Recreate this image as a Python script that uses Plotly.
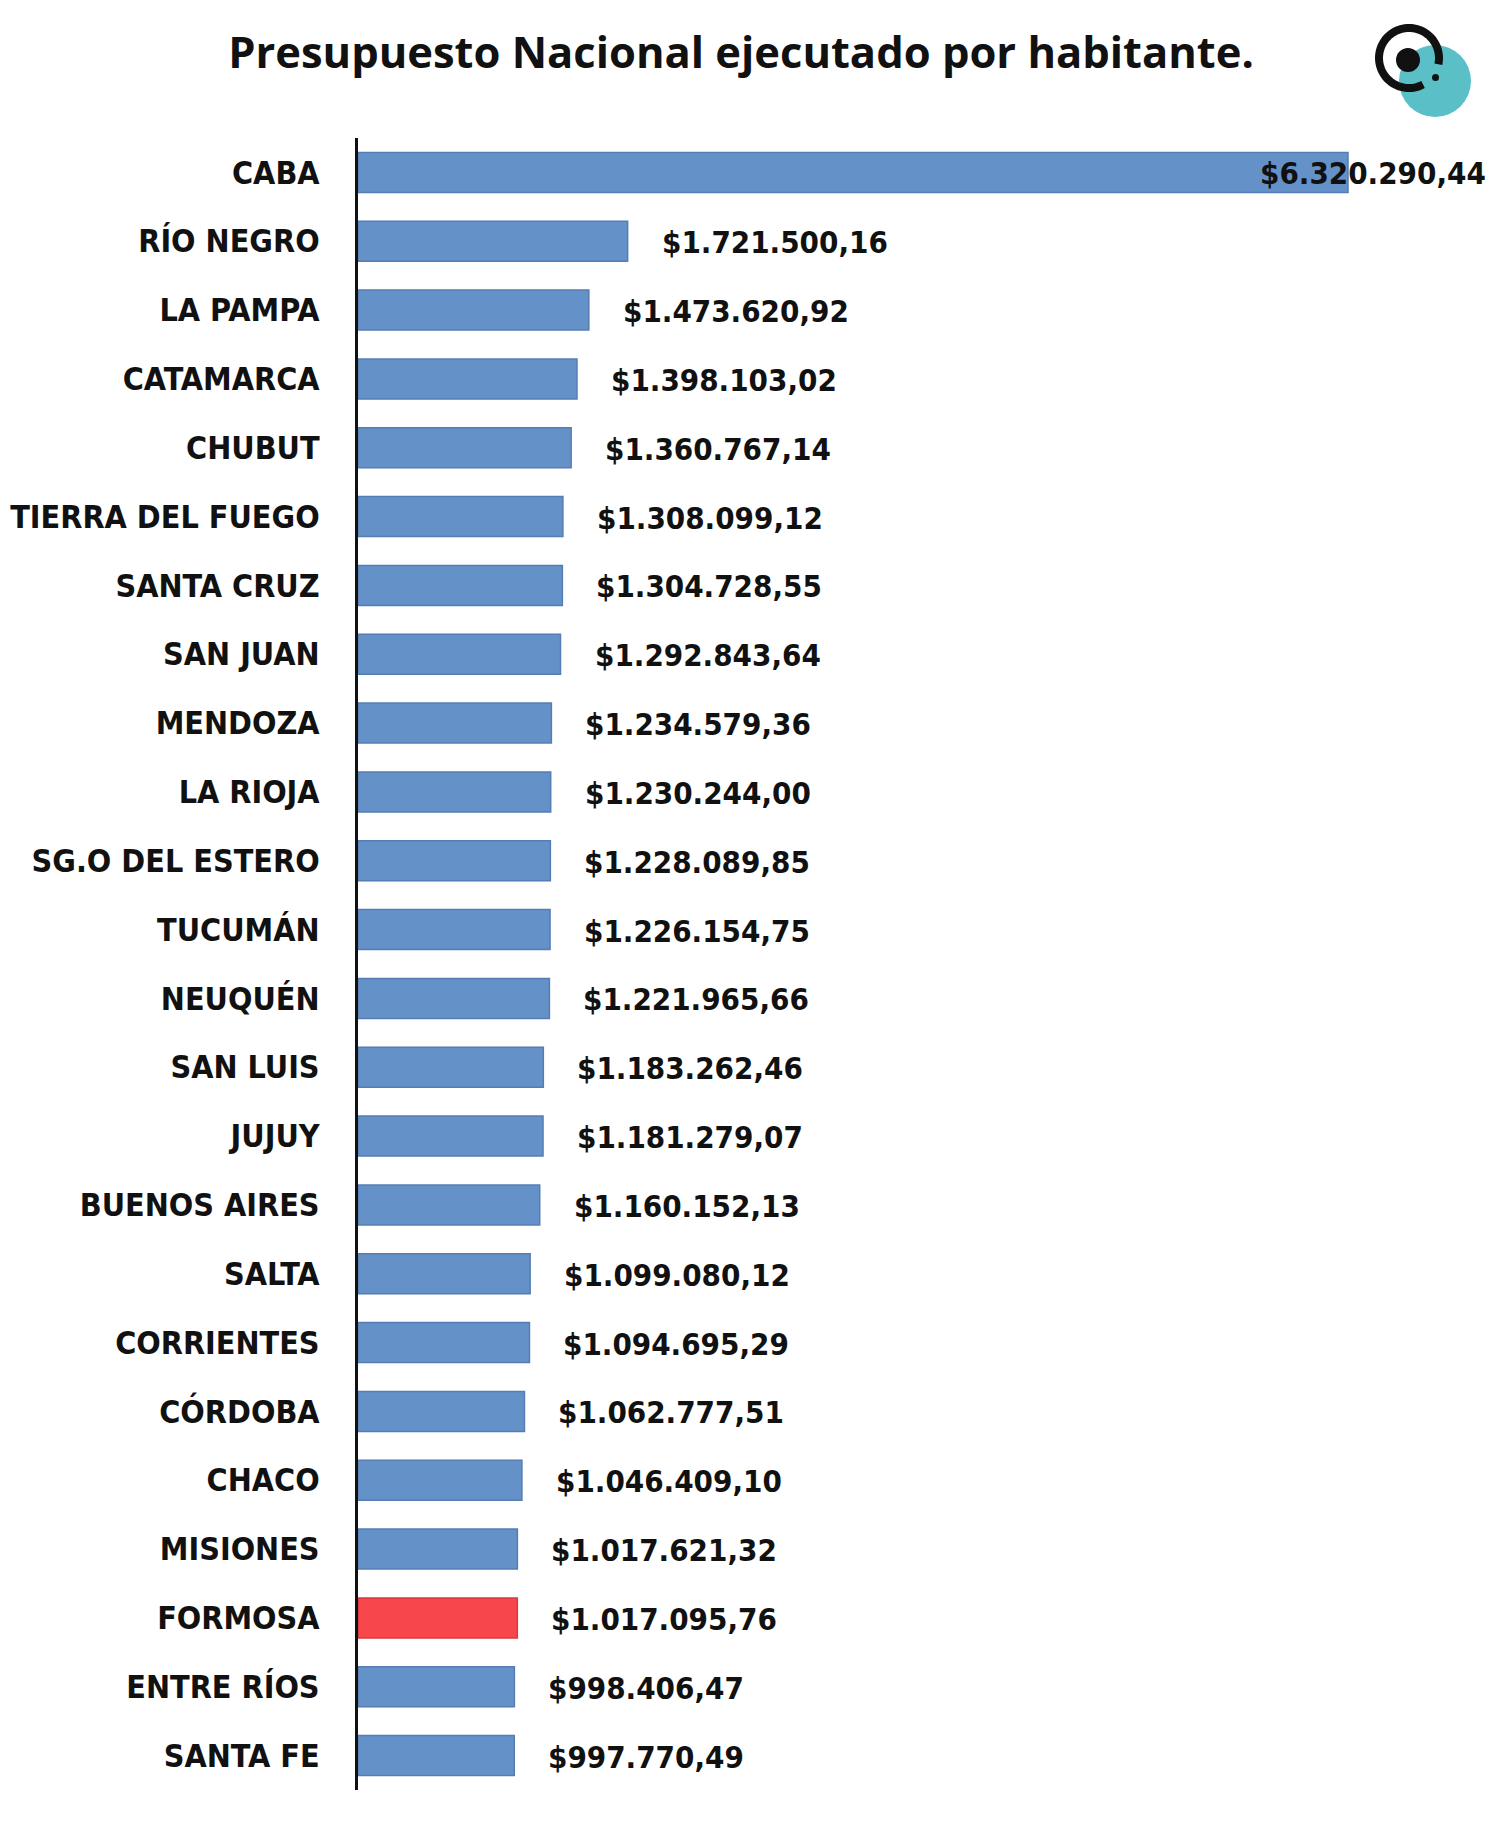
import numpy as np
import plotly.graph_objects as go

# ---------------- data ----------------
provincias = ["CABA", "RÍO NEGRO", "LA PAMPA", "CATAMARCA", "CHUBUT", "TIERRA DEL FUEGO",
              "SANTA CRUZ", "SAN JUAN", "MENDOZA", "LA RIOJA", "SG.O DEL ESTERO", "TUCUMÁN",
              "NEUQUÉN", "SAN LUIS", "JUJUY", "BUENOS AIRES", "SALTA", "CORRIENTES",
              "CÓRDOBA", "CHACO", "MISIONES", "FORMOSA", "ENTRE RÍOS", "SANTA FE"]
valores = [6320290.44, 1721500.16, 1473620.92, 1398103.02, 1360767.14, 1308099.12,
           1304728.55, 1292843.64, 1234579.36, 1230244.00, 1228089.85, 1226154.75,
           1221965.66, 1183262.46, 1181279.07, 1160152.13, 1099080.12, 1094695.29,
           1062777.51, 1046409.10, 1017621.32, 1017095.76, 998406.47, 997770.49]
destacada = "FORMOSA"
titulo = "Presupuesto Nacional ejecutado por habitante."

# ---------------- styling ----------------
OFF = 8  # default page body margin
W, H = 1500 - OFF, 1830 - 2 * OFF
ML, MR, MT, MB = 358 - OFF, 10, 138 - OFF, 1830 - 1790 - OFF
BLUE, BLUE_EDGE = "#6591C9", "#557DB3"
RED, RED_EDGE = "#F7474C", "#D83A3E"
LABEL_FONT = "Liberation Sans Narrow, DejaVu Sans Condensed, Arial Narrow, sans-serif"


def fmt(v):
    s = f"{v:,.2f}"
    return "$" + s.replace(",", "X").replace(".", ",").replace("X", ".")


colors = [RED if p == destacada else BLUE for p in provincias]
edges = [RED_EDGE if p == destacada else BLUE_EDGE for p in provincias]

fig = go.Figure()
fig.add_trace(go.Bar(
    x=valores, y=provincias, orientation="h",
    marker=dict(color=colors, line=dict(color=edges, width=1.5)),
    hoverinfo="skip",
))

for p, v in zip(provincias, valores):
    shift = -90 if v == max(valores) else 32
    fig.add_annotation(
        x=v, y=p, xref="x", yref="y", text=fmt(v), showarrow=False,
        xanchor="left", yanchor="middle", xshift=shift, yshift=-1,
        font=dict(family=LABEL_FONT, size=31, color="#111111", weight="bold"),
    )

plot_w = W - ML - MR
plot_h = H - MT - MB
px_per_unit = 990 / max(valores)
xmax = plot_w / px_per_unit

# ---------------- logo (decorative shapes) ----------------
def px(xp):
    return (xp - OFF - ML) / plot_w


def py(yp):
    return (H - MB - (yp - OFF)) / plot_h


shapes = []
# teal disc
cx, cy, r = 1435, 81, 36
shapes.append(dict(type="circle", xref="paper", yref="paper",
                   x0=px(cx - r), x1=px(cx + r), y0=py(cy + r), y1=py(cy - r),
                   fillcolor="#5BBFC8", line=dict(width=0), layer="above"))
# black open ring
rcx, rcy, rr = 1409, 58, 30
ang = np.radians(np.linspace(-12, 298, 80))
pts = [(px(rcx + rr * np.cos(a)), py(rcy - rr * np.sin(a))) for a in ang]
path = "M " + " L ".join(f"{x:.5f},{y:.5f}" for x, y in pts)
shapes.append(dict(type="path", xref="paper", yref="paper", path=path,
                   line=dict(color="#111111", width=8), layer="above"))
# inner dot
dcx, dcy, dr = 1408, 60, 12
shapes.append(dict(type="circle", xref="paper", yref="paper",
                   x0=px(dcx - dr), x1=px(dcx + dr), y0=py(dcy + dr), y1=py(dcy - dr),
                   fillcolor="#111111", line=dict(width=0), layer="above"))
# tiny dot
shapes.append(dict(type="circle", xref="paper", yref="paper",
                   x0=px(1432), x1=px(1439), y0=py(81), y1=py(74),
                   fillcolor="#111111", line=dict(width=0), layer="above"))

fig.update_layout(
    width=W, height=H,
    margin=dict(l=ML, r=MR, t=MT, b=MB, pad=0, autoexpand=False),
    paper_bgcolor="white", plot_bgcolor="white",
    bargap=0.42,
    showlegend=False,
    shapes=shapes,
    title=dict(text=titulo, x=(741 - OFF) / W, xanchor="center",
               y=1 - (53 - OFF) / H, yanchor="middle",
               xref="container", yref="container", automargin=False,
               font=dict(family="Open Sans, sans-serif", size=43.5, color="#111111", weight="bold")),
    xaxis=dict(range=[0, xmax], visible=False, fixedrange=True, automargin=False),
    yaxis=dict(autorange="reversed", showgrid=False, zeroline=False, automargin=False,
               showline=True, linecolor="#111111", linewidth=3,
               ticks="", ticklabelstandoff=29,
               tickfont=dict(family=LABEL_FONT, size=32, color="#111111", weight="bold")),
)

fig.write_html("out.html")
